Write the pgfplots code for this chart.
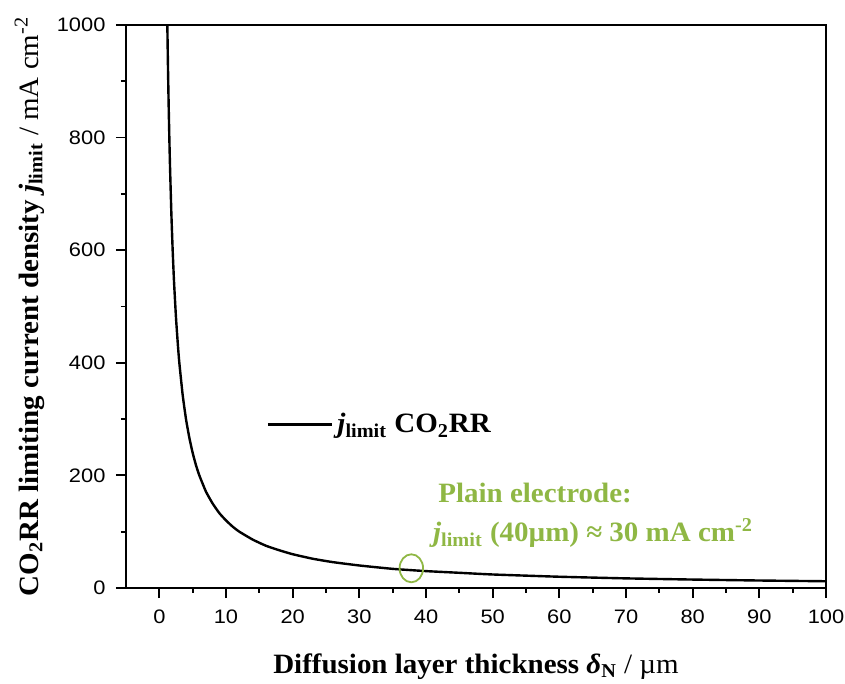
\documentclass[border=0pt]{standalone}
\usepackage{fontspec}
\setmainfont{Liberation Serif}[FakeStretch=1.035]
\newfontfamily\tickfont{Liberation Sans}[FakeStretch=1.12]
\usepackage{pgfplots}
\pgfplotsset{compat=1.18}
\definecolor{plaingreen}{RGB}{143,183,68}
\begin{document}
\begin{tikzpicture}
\begin{axis}[
  name=ax,
  scale only axis=true,
  width=350pt, height=281.5pt,
  xmin=-5, xmax=100, ymin=0, ymax=1000,
  xtick={0,10,...,100}, ytick={0,200,...,1000},
  minor x tick num=1, minor y tick num=1,
  xtick pos=left, ytick pos=left,
  tick align=outside,
  major tick length=5pt, minor tick length=2.5pt,
  axis line style={line width=1pt},
  every tick/.style={line width=0.9pt, black},
  /pgf/number format/assume math mode=true,
  /pgf/number format/set thousands separator={},
  tick label style={font=\fontsize{9.75}{11}\tickfont},
  xticklabel style={yshift=-2.5pt},
  yticklabel style={xshift=-1.75pt},
  xlabel={\textbf{Diffusion layer thickness \textit{δ}\textsubscript{N}} / µm},
  ylabel={\textbf{CO\textsubscript{2}RR limiting current density \textit{j}\textsubscript{limit}} / mA cm\textsuperscript{-2}},
  label style={font=\fontsize{14}{16}\selectfont},
  xlabel style={at={(axis description cs:0.5,-0.151)}, anchor=base},
  ylabel style={at={(axis description cs:-0.138,0.5)}, anchor=center},
  legend style={draw=none, fill=none, at={(axis description cs:0.2,0.29)}, anchor=west,
    font=\fontsize{14}{16}\selectfont\bfseries, inner sep=0pt},
  legend image code/.code={\draw[#1, line width=1.5pt] (0pt,0pt) -- (32pt,0pt);},
  legend cell align=left,
  clip=true,
]
\addplot[black, line width=1.2pt, smooth, tension=0.3] coordinates {
(1.2,1000) (1.3,923) (1.4,857) (1.5,800) (1.6,750) (1.8,667) (2,600) (2.2,545)
(2.5,480) (2.8,429) (3,400) (3.5,343) (4,300) (4.5,267) (5,240) (5.5,218)
(6,200) (7,171) (8,150) (9,133) (10,120) (11,109) (12,100) (14,86) (16,75)
(18,67) (20,60) (23,52) (26,46) (30,40) (35,34) (40,30) (45,27) (50,24)
(60,20) (70,17.1) (80,15) (90,13.3) (100,12)
};
\addlegendentry{\textit{j}\textsubscript{limit} CO\textsubscript{2}RR}
\addplot[only marks, mark=o, mark size=7pt, color=plaingreen,
  mark options={line width=0.9pt, xscale=0.84}, forget plot] coordinates {(37.8,35)};
\node[anchor=base west, text=plaingreen, font=\fontsize{14}{16}\selectfont\bfseries, inner sep=0pt]
  at (axis cs:41.8,151) {Plain electrode:};
\node[anchor=base west, text=plaingreen, font=\fontsize{14}{16}\selectfont\bfseries, inner sep=0pt]
  at (axis cs:41.0,82) {\textit{j}\textsubscript{limit} (40µm) ≈ 30 mA cm\textsuperscript{-2}};
\end{axis}
\pgfresetboundingbox
\useasboundingbox ([xshift=-63pt,yshift=-48pt]ax.south west) rectangle ([xshift=9.5pt,yshift=12.5pt]ax.north east);
\end{tikzpicture}
\end{document}
